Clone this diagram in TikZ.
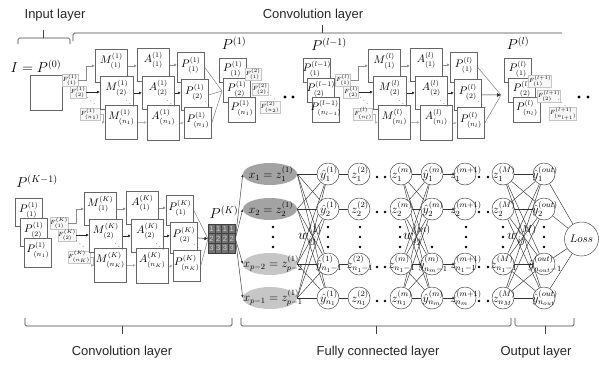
\documentclass[tikz,border=0pt]{standalone}
\usepackage{amsmath}
\usepackage[no-math]{fontspec}
\newfontfamily\sansf{Liberation Sans}
\usetikzlibrary{calc,arrows.meta,shapes.geometric}
\definecolor{bc}{HTML}{666666}
\definecolor{exd}{HTML}{A3A3A3}
\definecolor{exl}{HTML}{C6C6C6}
\pgfdeclarelayer{bg}
\pgfsetlayers{bg,main}
\tikzset{
  bxs/.style={draw=bc, fill=white, line width=0.75pt, inner sep=0pt, anchor=north west},
  lbl/.style={inner sep=0pt, font=\fontsize{10.5}{11}\selectfont},
  big/.style={inner sep=0pt, font=\fontsize{14.5}{16}\selectfont},
  flab/.style={draw=gray!45, fill=gray!6, inner sep=0.4pt, font=\fontsize{6}{7}\selectfont},
  dd/.style={inner sep=0pt, font=\fontsize{7}{7}\selectfont},
  tipa/.style={-{Latex[length=3pt,width=3pt]}},
  ag/.style={draw=black!45, line width=0.6pt, tipa},
  ad/.style={draw=black!85, line width=0.6pt, tipa},
  al/.style={draw=black!30, line width=0.6pt, tipa},
  wire/.style={draw=black!80, line width=0.45pt},
  wireg/.style={draw=black!50, line width=0.5pt},
  neu/.style={circle, draw=black!70, fill=white, minimum size=22pt, inner sep=0pt, line width=0.5pt},
  nl/.style={inner sep=0pt, font=\fontsize{12}{13}\selectfont},
  ell/.style={ellipse, draw=none, minimum width=54pt, minimum height=22pt, inner sep=0pt},
  dotc/.style={circle, fill=black, inner sep=0pt, minimum size=3.2pt},
  sdot/.style={circle, fill=black, inner sep=0pt, minimum size=2.8pt},
  brc/.style={draw=black!75, line width=0.7pt},
  laytxt/.style={inner sep=0pt, font=\sansf\fontsize{13}{15}\selectfont, text=black!85},
  cell/.style={draw=black!75, fill=black!55, minimum width=6.75pt, minimum height=9.667pt, inner sep=0pt, text=white!80!black, font=\sansf\fontsize{7.5}{8}\selectfont},
}
\newcommand\mybox[7]{%
  \node[bxs,minimum width=#4pt,minimum height=#5pt] (#1) at (#2,#3) {};%
  \node[lbl] (#1t) at ($(#1.north)+(0,#6)$) {#7};}
\newcommand\convblock[3]{%
  \node[flab] (#1F1) at (70,80) {$F^{#2}_{(1)}$};
  \node[flab] (#1F2) at (78,92) {$F^{#2}_{(2)}$};
  \node[flab] (#1Fn) at (90,114) {$F^{#2}_{(#3)}$};
  \node[dd] (#1Fd) at (91,98) {$\ddots$};
  \mybox{#1M1}{95}{49}{32}{33}{12}{$M^{#2}_{(1)}$}
  \mybox{#1M2}{100}{76}{33}{33}{12}{$M^{#2}_{(2)}$}
  \mybox{#1Mn}{105}{105}{32}{34}{12}{$M^{#2}_{(#3)}$}
  \mybox{#1A1}{137}{48}{32}{33}{12}{$A^{#2}_{(1)}$}
  \mybox{#1A2}{142}{76}{32}{33}{12}{$A^{#2}_{(2)}$}
  \mybox{#1An}{147}{105}{32}{35}{12}{$A^{#2}_{(#3)}$}
  \mybox{#1P1}{177}{52}{27}{30}{13}{$P^{#2}_{(1)}$}
  \mybox{#1P2}{181}{79}{27}{31}{13}{$P^{#2}_{(2)}$}
  \mybox{#1Pn}{184}{107}{27}{31}{13}{$P^{#2}_{(#3)}$}
  \node[dd] (#1Md) at (130,101) {$\ddots$};
  \node[dd] (#1Ad) at (171,101) {$\ddots$};
  \node[dd] (#1Pd) at (209,102) {$\ddots$};
  \draw[ag] (#1F1.east) -- ++(8,0) |- (#1M1.west);
  \draw[ad] (#1F2.east) -- (#1F2.east -| #1M2.west);
  \draw[al] (#1Fn.east) -- ++(3,0) |- (#1Mn.west);
  \draw[ag] (#1M1.east) -- (#1M1.east -| #1A1.west);
  \draw[ad] (#1M2.east) -- (#1M2.east -| #1A2.west);
  \draw[al] (#1Mn.east) -- (#1Mn.east -| #1An.west);
  \draw[ag] (#1A1.east) -- (#1A1.east -| #1P1.west);
  \draw[ad] (#1A2.east) -- (#1A2.east -| #1P2.west);
  \draw[al] (#1An.east) -- (#1An.east -| #1Pn.west);
}
\newcommand\neucol[6]{%
  \node[neu] (#11) at (#2,174) {}; \node[nl] (#11t) at (#2+1,174) {$#3$};
  \node[neu] (#12) at (#2,209) {}; \node[nl] (#12t) at (#2+1,209) {$#4$};
  \node[neu] (#13) at (#2,264) {}; \node[nl] (#13t) at (#2+1,264) {$#5$};
  \node[neu] (#14) at (#2,298) {}; \node[nl] (#14t) at (#2+1,298) {$#6$};}
\begin{document}
\begin{tikzpicture}[x=1pt,y=-1pt]
\useasboundingbox (0,0) rectangle (599,365);
% ---------- top labels and braces
\node[laytxt] (tInput) at (55,15) {Input layer};
\node[laytxt] (tConv) at (313,15) {Convolution layer};
\draw[brc,rounded corners=1.5pt] (18,44) -- (18,38) -- (70,38) -- (70,44);
\draw[brc] (43,38) -- (43,30);
\draw[brc,rounded corners=1.5pt] (73,41) -- (73,33) -- (562,33);
\draw[brc] (322,33) -- (322,25);
% ---------- input
\node[big] (tI) at (36,66) {$I = P^{(0)}$};
\node[bxs,minimum width=32pt,minimum height=35pt] (inbox) at (30,75) {};
% ---------- block 1
\convblock{a}{(1)}{n_1}
\coordinate (ca) at (222,91);
\draw[wireg] (aP1.east) -- (ca);
\draw[wireg] (aP2.east) -- (ca);
\draw[wireg] (aPn.east) -- (ca);
\node[big] (lPa) at (234,43) {$P^{(1)}$};
\mybox{sa1}{219}{58}{27}{24}{11}{$P^{(1)}_{(1)}$}
\mybox{sa2}{223}{78}{27}{24}{11}{$P^{(1)}_{(2)}$}
\mybox{san}{228}{97}{27}{25}{11}{$P^{(1)}_{(n_1)}$}
\node[flab] (fa1) at (253,74) {$F^{(2)}_{(1)}$};
\node[flab] (fa2) at (260,89) {$F^{(2)}_{(2)}$};
\node[dd] (fad) at (271,93) {$\ddots$};
\node[flab] (fan) at (270,107) {$F^{(2)}_{(n_2)}$};
\node[dotc] (da1) at (285,97) {};
\node[dotc] (da2) at (293,97) {};
% ---------- block 2
\node[big] (lPb) at (329,44) {$P^{(l-1)}$};
\mybox{sb1}{303}{58}{27}{24}{11}{$P^{(l-1)}_{(1)}$}
\mybox{sb2}{307}{78}{27}{24}{11}{$P^{(l-1)}_{(2)}$}
\mybox{sbn}{312}{97}{27}{25}{11}{$P^{(l-1)}_{(n_{l-1})}$}
\begin{scope}[shift={(273,0)}]
\convblock{b}{(l)}{n_l}
\end{scope}
\coordinate (cb) at (501,95);
\draw[wireg] (bP1.east) -- (cb);
\draw[wireg,draw=black!85,-{Latex[length=4pt,width=4pt]}] (bP2.east) -- (cb);
\draw[wireg] (bPn.east) -- (cb);
\node[big] (lPc) at (518,43) {$P^{(l)}$};
\mybox{sc1}{504}{58}{27}{24}{11}{$P^{(l)}_{(1)}$}
\mybox{sc2}{508}{78}{27}{24}{11}{$P^{(l)}_{(2)}$}
\mybox{scn}{513}{97}{27}{25}{11}{$P^{(l)}_{(n_l)}$}
\node[flab] (fc1) at (540,81) {$F^{(l+1)}_{(1)}$};
\node[flab] (fc2) at (549,96) {$F^{(l+1)}_{(2)}$};
\node[dd] (fcd) at (562,100) {$\ddots$};
\node[flab] (fcn) at (563,114) {$F^{(l+1)}_{(n_{l+1})}$};
\node[dotc] (dc1) at (579,97) {};
\node[dotc] (dc2) at (588,97) {};
% ---------- bottom conv block
\node[big] (lPd) at (37,181) {$P^{(K-1)}$};
\mybox{sd1}{15}{198}{27}{28}{12}{$P^{(1)}_{(1)}$}
\mybox{sd2}{20}{218}{27}{28}{12}{$P^{(1)}_{(2)}$}
\mybox{sdn}{24}{238}{27}{29}{12}{$P^{(1)}_{(n_1)}$}
\begin{scope}[shift={(-11,143)}]
\convblock{c}{(K)}{n_K}
\end{scope}
\node[draw=black!80, fill=black!55, minimum width=27pt, minimum height=29pt, anchor=north west, inner sep=0pt] (grid) at (208,224) {};
\foreach \r in {1,2,3}{\foreach \c in {0,1,2,3}{\node[cell] (g\r\c) at (211.375+6.75*\c, 219.167+9.667*\r) {\r};}}
\draw[wireg] (cP1.east) -- (grid.west);
\draw[wireg,draw=black!85,-{Latex[length=3.5pt,width=3.5pt]}] (cP2.east) -- (grid.west);
\draw[wireg] (cPn.east) -- (grid.west);
\node[big,font=\fontsize{14}{16}\selectfont] (lPK) at (224,212) {$P^{(K)}$};
% ---------- fully connected part
\node[ell,fill=exd] (X1) at (270,174) {};
\node[ell,fill=exd] (X2) at (270,209) {};
\node[ell,fill=exl] (X3) at (270,264) {};
\node[ell,fill=exl] (X4) at (270,298) {};
\node[nl] (X1t) at (271,174) {$x_1 = z_1^{(1)}$};
\node[nl] (X2t) at (271,209) {$x_2 = z_2^{(1)}$};
\node[nl] (X3t) at (273,264) {$x_{p-2} = z_{p-2}^{(1)}$};
\node[nl] (X4t) at (273,298) {$x_{p-1} = z_{p-1}^{(1)}$};
\neucol{Ya}{328}{\hat y_1^{(1)}}{\hat y_2^{(1)}}{\hat y_{n_1-1}^{(1)}}{\hat y_{n_1}^{(1)}}
\neucol{Zb}{359}{z_1^{(2)}}{z_2^{(2)}}{z_{n_1-1}^{(2)}}{z_{n_1}^{(2)}}
\neucol{Zc}{401}{z_1^{(m)}}{z_2^{(m)}}{z_{n_1-1}^{(m)}}{z_{n_1}^{(m)}}
\neucol{Yd}{432}{\hat y_1^{(m)}}{\hat y_2^{(m)}}{\hat y_{n_m-1}^{(m)}}{\hat y_{n_m}^{(m)}}
\neucol{Ze}{465}{z_1^{(m+1)}}{z_2^{(m+1)}}{z_{n_1-1}^{(m+1)}}{z_{n_m}^{(m+1)}}
\neucol{Zf}{503}{z_1^{(M)}}{z_2^{(M)}}{z_{n_1-1}^{(M)}}{z_{n_M}^{(M)}}
\neucol{Yg}{544}{\hat y_1^{(out)}}{\hat y_2^{(out)}}{\hat y_{n_{out}-1}^{(out)}}{\hat y_{n_{out}}^{(out)}}
\node[neu, minimum size=34pt] (Loss) at (581.5,239) {};
\node[nl,font=\fontsize{11}{12}\selectfont] (Losst) at (581.5,239) {$Loss$};
\begin{pgfonlayer}{bg}
\foreach \i in {1,2,3,4}{
  \foreach \j in {1,2,3,4}{
    \draw[wire] (X\i.east) -- (Ya\j);
    \draw[wire] (Zc\i) -- (Yd\j);
    \draw[wire] (Zf\i) -- (Yg\j);
  }
  \draw[wire] (Ya\i) -- (Zb\i);
  \draw[wire] (Yd\i) -- (Ze\i);
  \draw[wire] (Yg\i) -- (Loss);
  \draw[wire,-{Latex[length=3pt,width=2.5pt]}] (grid.east) -- (X\i.west);
}
\end{pgfonlayer}
\foreach \y [count=\i] in {177,212,267,301}{
  \node[sdot] (ra\i) at (377,\y) {};
  \node[sdot] (rb\i) at (385,\y) {};
  \node[sdot] (rc\i) at (479,\y) {};
  \node[sdot] (rd\i) at (488,\y) {};
}
\foreach \x [count=\k] in {273,328,360,400,466,503,544}{
  \foreach \y [count=\m] in {227,237,247}{\node[sdot] (v\k\m) at (\x,\y) {};}
}
\node[sdot] (vyd) at (432,247) {};
\node[nl,font=\fontsize{14}{15}\selectfont] (w1) at (310,235) {$w_{ij}^{(1)}$};
\node[nl,font=\fontsize{14}{15}\selectfont] (wm) at (417,235) {$w_{ij}^{(m)}$};
\node[nl,font=\fontsize{14}{15}\selectfont] (wM) at (522,235) {$w_{ij}^{(M)}$};
% ---------- bottom braces and labels
\draw[brc,rounded corners=1.5pt] (25,318) -- (25,326) -- (232,326) -- (232,318);
\draw[brc] (122,326) -- (122,334);
\draw[brc,rounded corners=1.5pt] (241,318) -- (241,326) -- (511,326) -- (511,318);
\draw[brc] (376,326) -- (376,334);
\draw[brc,rounded corners=1.5pt] (515,318) -- (515,326) -- (574,326) -- (574,318);
\draw[brc] (545,326) -- (545,334);
\node[laytxt] (bConv) at (122,352) {Convolution layer};
\node[laytxt] (bFC) at (378,352) {Fully connected layer};
\node[laytxt] (bOut) at (536,352) {Output layer};
\end{tikzpicture}
\end{document}
